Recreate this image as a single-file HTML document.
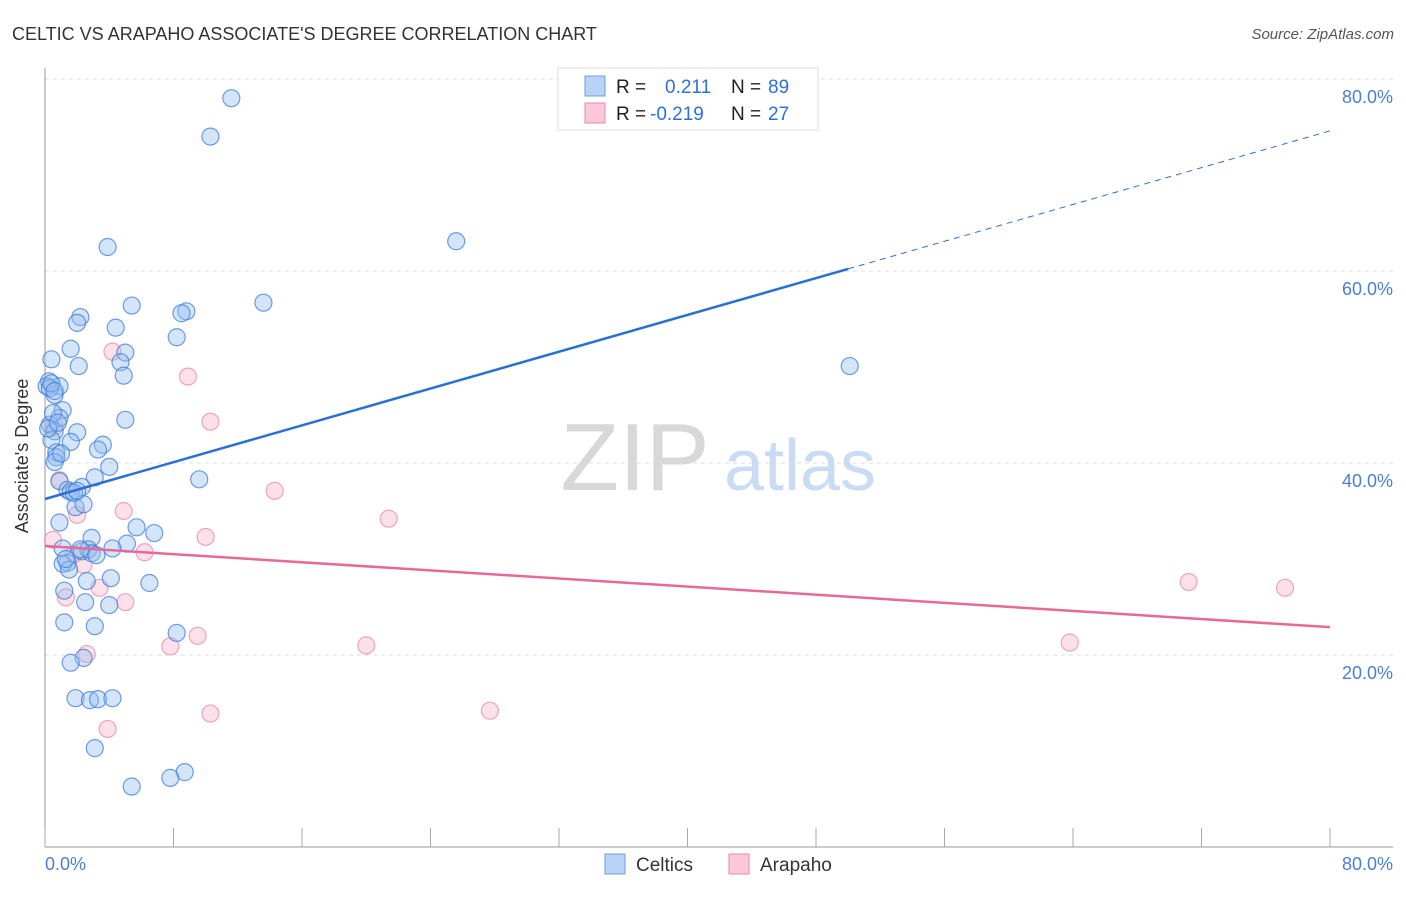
<!DOCTYPE html>
<html><head><meta charset="utf-8"><style>
body{margin:0;background:#fff;font-family:"Liberation Sans",sans-serif;}
svg text{font-family:"Liberation Sans",sans-serif;}
</style></head><body>
<svg id="chart" width="1406" height="892" xmlns="http://www.w3.org/2000/svg">
<text x="12" y="40" font-size="18" fill="#333">CELTIC VS ARAPAHO ASSOCIATE'S DEGREE CORRELATION CHART</text>
<text x="1394" y="39" font-size="15" fill="#555" font-style="italic" text-anchor="end">Source: ZipAtlas.com</text>
<g id="grid"></g>
<text x="635" y="490" font-size="96" fill="#d8d8d8" font-family="Liberation Serif" text-anchor="middle">ZIP</text>
<text x="800" y="490" font-size="72" fill="#c9dcf3" text-anchor="middle">atlas</text>
<line x1="45" y1="68" x2="45" y2="847" stroke="#999"/>
<line x1="45" y1="847" x2="1393" y2="847" stroke="#999"/>
<g id="xticks"></g>
<text x="28" y="456" font-size="18" fill="#333" text-anchor="middle" transform="rotate(-90 28 456)">Associate's Degree</text>
<text x="45" y="870" font-size="18" fill="#4a7fd6">0.0%</text>
<text x="1393" y="870" font-size="18" fill="#4a7fd6" text-anchor="end">80.0%</text>
<g id="pts"></g>
<g id="lines"></g>
<g>
<rect x="558" y="68" width="260" height="62" fill="#fff" stroke="#ddd"/>
<rect x="585" y="76" width="20" height="20" fill="#b8d3f5" stroke="#6c9ee3"/>
<rect x="585" y="103" width="20" height="20" fill="#fac8d8" stroke="#e88aa8"/>
<text x="616" y="93" font-size="19" fill="#222">R =</text>
<text x="665" y="93" font-size="19" fill="#2f6fd6">0.211</text>
<text x="731" y="93" font-size="19" fill="#222">N =</text>
<text x="768" y="93" font-size="19" fill="#2f6fd6">89</text>
<text x="616" y="120" font-size="19" fill="#222">R =</text>
<text x="650" y="120" font-size="19" fill="#2f6fd6">-0.219</text>
<text x="731" y="120" font-size="19" fill="#222">N =</text>
<text x="768" y="120" font-size="19" fill="#2f6fd6">27</text>
</g>
<g>
<rect x="605" y="854" width="20" height="20" fill="#b8d3f5" stroke="#6c9ee3"/>
<text x="636" y="871" font-size="19" fill="#333">Celtics</text>
<rect x="729" y="854" width="20" height="20" fill="#fac8d8" stroke="#e88aa8"/>
<text x="760" y="871" font-size="19" fill="#333">Arapaho</text>
</g>
</svg>
<script>
const yTicks=[20,40,60,80];
const yTickLabels=["20.0%","40.0%","60.0%","80.0%"];
const xTickVals=[0,8,16,24,32,40,48,56,64,72,80];
const celticsX=[11.6,10.3,3.9,25.6,13.6,5.4,8.8,8.5,2.2,2.0,4.4,8.2,1.6,5.0,0.4,4.7,2.1,50.1,4.9,0.25,0.9,0.1,0.6,1.1,5.0,0.9,0.3,0.6,2.0,0.4,1.6,3.6,3.3,0.7,0.7,0.6,4.0,3.1,0.9,9.6,2.3,1.4,1.6,1.9,2.4,0.9,5.7,6.8,2.9,5.1,4.2,1.1,2.3,2.7,2.9,3.2,1.4,1.1,1.5,2.6,4.1,6.5,1.2,2.5,4.0,1.2,3.1,8.2,2.4,1.6,1.9,2.8,3.3,4.2,3.1,8.7,7.8,5.4,0.3,0.5,0.2,1.0,0.4,1.8,2.2,0.8,1.3,0.6,2.0];
const celticsY=[78.0,74.0,62.5,63.1,56.7,56.4,55.8,55.6,55.2,54.6,54.1,53.1,51.9,51.5,50.8,50.5,50.1,50.1,49.1,48.5,48.0,48.0,47.1,45.5,44.5,44.7,44.0,43.3,43.2,42.4,42.2,41.9,41.4,41.1,40.6,40.1,39.6,38.5,38.1,38.3,37.5,37.2,37.0,35.4,35.7,33.8,33.3,32.7,32.2,31.6,31.1,31.1,30.8,31.0,30.6,30.4,29.6,29.5,28.9,27.7,28.0,27.5,26.7,25.5,25.2,23.4,23.0,22.3,19.7,19.2,15.5,15.3,15.4,15.5,10.3,7.8,7.2,6.3,47.8,45.2,43.6,41.0,48.3,36.9,31.0,44.2,30.0,47.5,37.1];
const arapahoX=[4.2,8.9,10.3,0.6,14.3,0.9,4.9,2.0,21.4,10.0,0.5,6.2,2.4,3.4,1.3,5.0,2.6,9.5,7.8,20.0,71.2,77.2,63.8,10.3,27.7,3.9,1.8];
const arapahoY=[51.6,49.0,44.3,43.8,37.1,38.2,35.0,34.6,34.2,32.3,32.0,30.7,29.4,27.0,26.0,25.5,20.1,22.0,20.9,21.0,27.6,27.0,21.3,13.9,14.2,12.3,30.5];
const blueTrend=[36.25,74.6], blueSolidEnd=50;
const pinkTrend=[31.35,22.9];
const NS="http://www.w3.org/2000/svg";
const sx=v=>45+v*16.0625, sy=v=>847-v*9.6;
function mk(tag,attrs,parent){const e=document.createElementNS(NS,tag);for(const k in attrs)e.setAttribute(k,attrs[k]);parent.appendChild(e);return e;}
const grid=document.getElementById('grid');
yTicks.forEach((t,i)=>{
 const l=mk('line',{x1:45,x2:1393,y1:sy(t),y2:sy(t),stroke:'#ddd','stroke-dasharray':'4,4'},grid);
 
 
 const tx=mk('text',{x:1393,y:sy(t)+24,'font-size':18,fill:'#4a7fd6','text-anchor':'end'},grid);
 tx.textContent=yTickLabels[i];
 
 
});
const xt=document.getElementById('xticks');
xTickVals.forEach(v=>{
 const l=mk('line',{x1:sx(v),x2:sx(v),y1:828,y2:847,stroke:'#aaa'},xt);
 
 
});
const pts=document.getElementById('pts');
arapahoX.forEach((x,i)=>{
 const c=mk('circle',{cx:sx(x),cy:sy(arapahoY[i]),r:8.5,fill:'rgba(246,170,195,0.35)',stroke:'rgba(232,130,165,0.7)','stroke-width':1.2},pts);
 
 
});
celticsX.forEach((x,i)=>{
 const c=mk('circle',{cx:sx(x),cy:sy(celticsY[i]),r:8.5,fill:'rgba(150,190,240,0.4)',stroke:'rgba(60,125,220,0.75)','stroke-width':1.2},pts);
 
 
});
const ln=document.getElementById('lines');
const bAt=x=>blueTrend[0]+(blueTrend[1]-blueTrend[0])*x/80;
const b1=mk('line',{x1:sx(0),y1:sy(bAt(0)),x2:sx(blueSolidEnd),y2:sy(bAt(blueSolidEnd)),stroke:'#2a6fd6','stroke-width':2.5},ln);


const b2=mk('line',{x1:sx(blueSolidEnd),y1:sy(bAt(blueSolidEnd)),x2:sx(80),y2:sy(bAt(80)),stroke:'#2a6fd6','stroke-width':1,'stroke-dasharray':'6,5'},ln);


const p1=mk('line',{x1:sx(0),y1:sy(pinkTrend[0]),x2:sx(80),y2:sy(pinkTrend[1]),stroke:'#e8689a','stroke-width':2.5},ln);


</script>
</body></html>
